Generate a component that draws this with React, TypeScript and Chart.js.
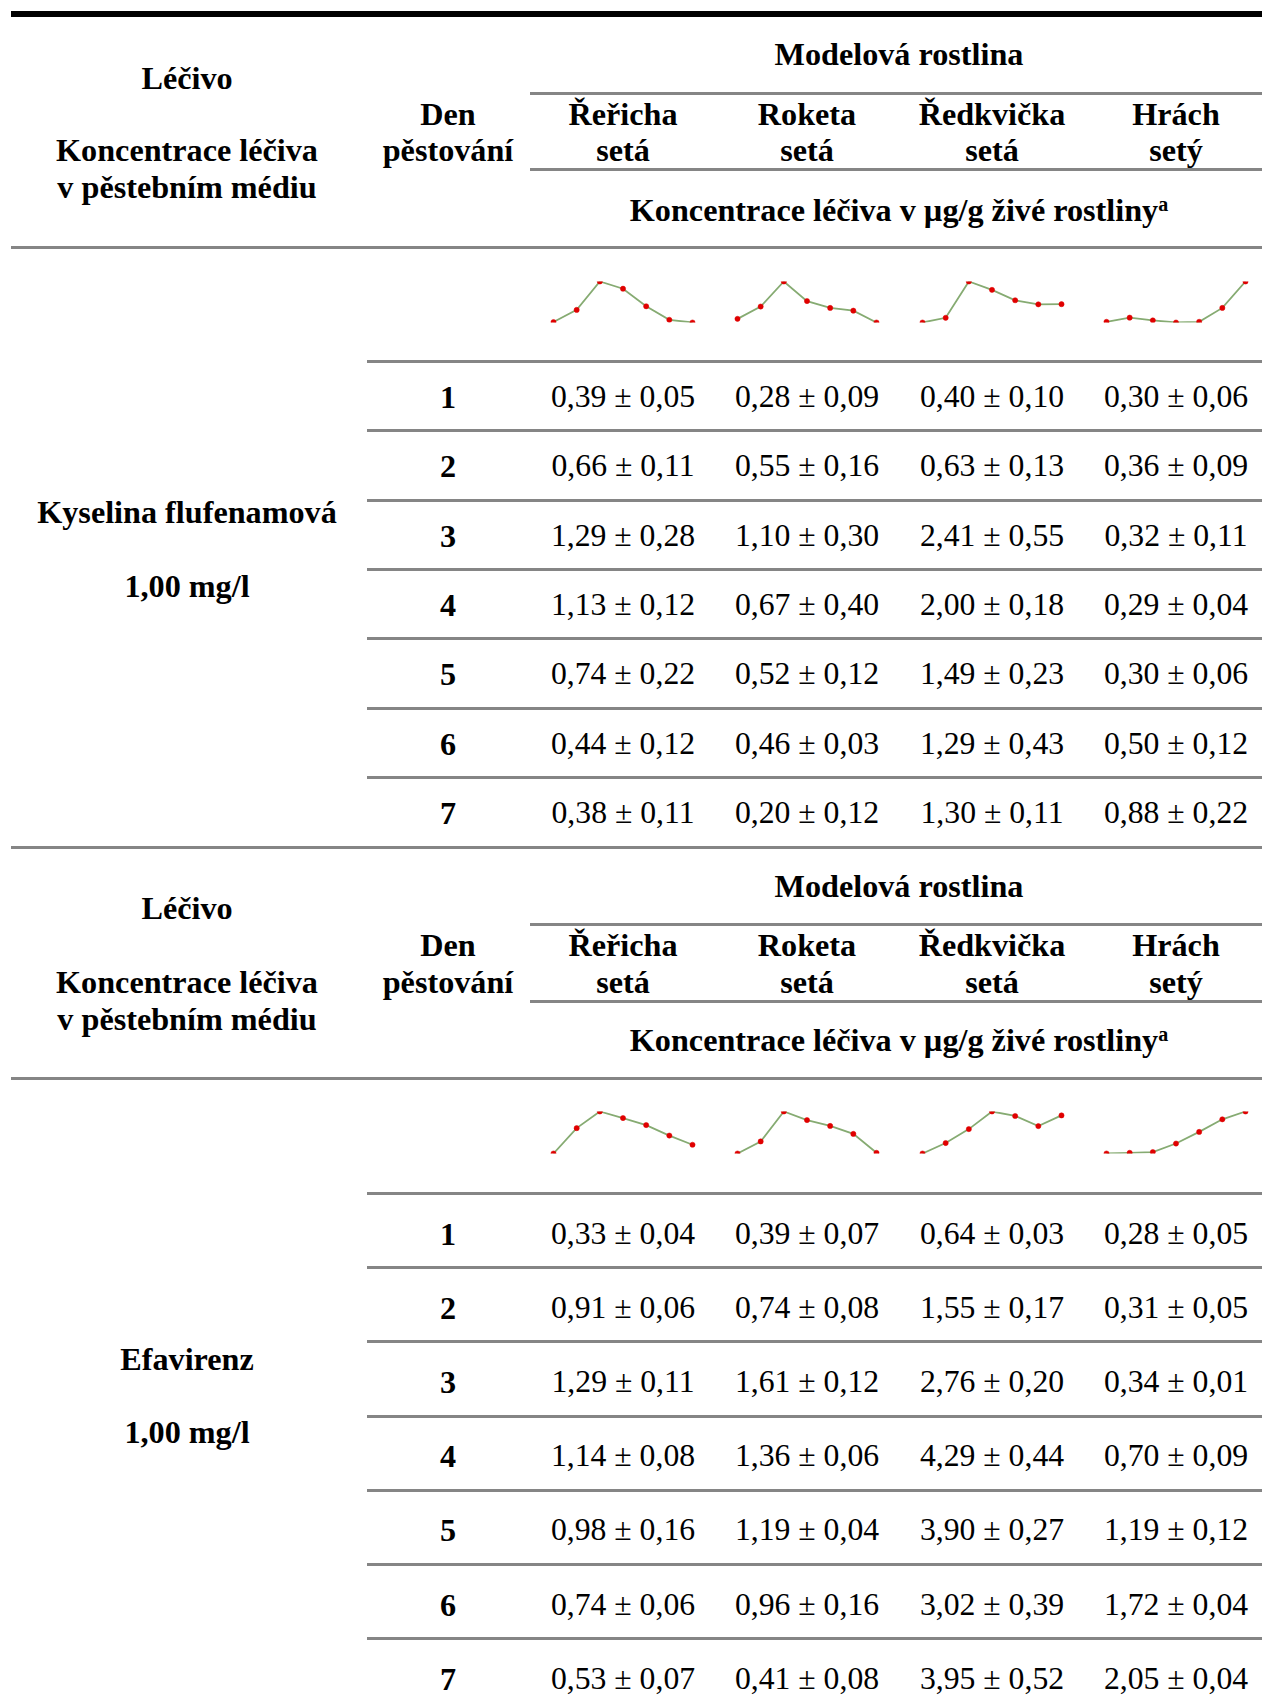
import React, { useEffect, useRef } from "react";
import { Chart, registerables } from "chart.js";

Chart.register(...registerables);

// ---------- data ----------
const days = [1, 2, 3, 4, 5, 6, 7];
const plantNames = ["Řeřicha", "Roketa", "Ředkvička", "Hrách"];
const plantEpithets = ["setá", "setá", "setá", "setý"];

const drugNames = ["Kyselina flufenamová", "Efavirenz"];
const drugConcs = ["1,00 mg/l", "1,00 mg/l"];

// Kyselina flufenamová: means per plant (days 1..7)
const fluRericha = [0.39, 0.66, 1.29, 1.13, 0.74, 0.44, 0.38];
const fluRoketa = [0.28, 0.55, 1.1, 0.67, 0.52, 0.46, 0.2];
const fluRedkvicka = [0.4, 0.63, 2.41, 2.0, 1.49, 1.29, 1.3];
const fluHrach = [0.3, 0.36, 0.32, 0.29, 0.3, 0.5, 0.88];
// standard deviations
const fluRerichaSd = [0.05, 0.11, 0.28, 0.12, 0.22, 0.12, 0.11];
const fluRoketaSd = [0.09, 0.16, 0.3, 0.4, 0.12, 0.03, 0.12];
const fluRedkvickaSd = [0.1, 0.13, 0.55, 0.18, 0.23, 0.43, 0.11];
const fluHrachSd = [0.06, 0.09, 0.11, 0.04, 0.06, 0.12, 0.22];

// Efavirenz
const efaRericha = [0.33, 0.91, 1.29, 1.14, 0.98, 0.74, 0.53];
const efaRoketa = [0.39, 0.74, 1.61, 1.36, 1.19, 0.96, 0.41];
const efaRedkvicka = [0.64, 1.55, 2.76, 4.29, 3.9, 3.02, 3.95];
const efaHrach = [0.28, 0.31, 0.34, 0.7, 1.19, 1.72, 2.05];
const efaRerichaSd = [0.04, 0.06, 0.11, 0.08, 0.16, 0.06, 0.07];
const efaRoketaSd = [0.07, 0.08, 0.12, 0.06, 0.04, 0.16, 0.08];
const efaRedkvickaSd = [0.03, 0.17, 0.2, 0.44, 0.27, 0.39, 0.52];
const efaHrachSd = [0.05, 0.05, 0.01, 0.09, 0.12, 0.04, 0.04];

const fluMeans = [fluRericha, fluRoketa, fluRedkvicka, fluHrach];
const fluSds = [fluRerichaSd, fluRoketaSd, fluRedkvickaSd, fluHrachSd];
const efaMeans = [efaRericha, efaRoketa, efaRedkvicka, efaHrach];
const efaSds = [efaRerichaSd, efaRoketaSd, efaRedkvickaSd, efaHrachSd];

// ---------- layout ----------
const FONT = "'Liberation Serif', 'Times New Roman', serif";
const FS_BOLD = 32.2;
const FS_REG = 31.7;
const LH = 36;
const leftX = 187;
const denX = 448;
const colX = [623, 807, 992, 1176];
const speciesLeft = 530;
const rowLineLeft = 367;
const fullLeft = 11;
const RIGHT = 1262;
const SPARK_W = 140;
const PAD = 4;

const fmt = (v: number) => v.toFixed(2).replace(".", ",");

function Txt({ x, y, children, bold = true }: any) {
  return (
    <div
      style={{
        position: "absolute",
        left: x - 300,
        width: 600,
        top: y - LH / 2,
        height: LH,
        lineHeight: LH + "px",
        fontSize: bold ? FS_BOLD : FS_REG,
        fontWeight: bold ? "bold" : "normal",
        textAlign: "center",
        whiteSpace: "nowrap",
      }}
    >
      {children}
    </div>
  );
}

function HLine({ x1, x2, y, h = 3, color = "#858585" }: any) {
  return (
    <div
      style={{
        position: "absolute",
        left: x1,
        width: x2 - x1,
        top: Math.round(y - h / 2),
        height: h,
        background: color,
      }}
    />
  );
}

function Spark({ values, cx, top, h }: any) {
  const ref = useRef<HTMLCanvasElement>(null);
  useEffect(() => {
    if (!ref.current) return;
    const chart = new Chart(ref.current, {
      type: "line",
      data: {
        labels: days.map(String),
        datasets: [
          {
            data: values,
            borderColor: "#86ab72",
            borderWidth: 1.8,
            pointRadius: 2.6,
            pointBackgroundColor: "#e00000",
            pointBorderColor: "#e00000",
            pointBorderWidth: 0.5,
            tension: 0,
            fill: false,
          },
        ],
      },
      options: {
        responsive: false,
        animation: false,
        layout: { padding: PAD },
        plugins: { legend: { display: false }, tooltip: { enabled: false } },
        scales: {
          x: { display: false, offset: false },
          y: { display: false, min: Math.min(...values), max: Math.max(...values) },
        },
      },
    });
    return () => chart.destroy();
  }, [values]);
  const w = SPARK_W + 2 * PAD;
  const hh = h + 2 * PAD;
  return (
    <canvas
      ref={ref}
      width={w}
      height={hh}
      style={{ position: "absolute", left: cx - w / 2, top: top - PAD, width: w, height: hh }}
    />
  );
}

function Block({ L, drug, conc, means, sds }: any) {
  const rows = days.map((d, i) => {
    const line = L.rowLine0 + i * L.rowH;
    return { d, i, line, cy: line + L.rowH / 2 + L.textOff };
  });
  return (
    <>
      <Txt x={leftX} y={L.lecivoY}>Léčivo</Txt>
      <Txt x={leftX} y={L.row2Y}>Koncentrace léčiva</Txt>
      <Txt x={leftX} y={L.leftVY}>v pěstebním médiu</Txt>
      <Txt x={denX} y={L.row1Y}>Den</Txt>
      <Txt x={denX} y={L.row2Y}>pěstování</Txt>
      <Txt x={(speciesLeft + 1268) / 2} y={L.modelY}>Modelová rostlina</Txt>
      <HLine x1={speciesLeft} x2={RIGHT} y={L.line1} />
      {plantNames.map((p, j) => (
        <React.Fragment key={p + j}>
          <Txt x={colX[j]} y={L.row1Y}>{p}</Txt>
          <Txt x={colX[j]} y={L.row2Y}>{plantEpithets[j]}</Txt>
        </React.Fragment>
      ))}
      <HLine x1={speciesLeft} x2={RIGHT} y={L.line2} />
      <Txt x={(speciesLeft + 1268) / 2} y={L.koncY}>
        Koncentrace léčiva v µg/g živé rostliny
        <span style={{ fontSize: 20, position: "relative", top: -10 }}>a</span>
      </Txt>
      <HLine x1={fullLeft} x2={RIGHT} y={L.line3} />
      {means.map((m: number[], j: number) => (
        <Spark key={"s" + j} values={m} cx={colX[j]} top={L.sparkTop} h={L.sparkH} />
      ))}
      {rows.map((r) => (
        <React.Fragment key={"r" + r.i}>
          <HLine x1={rowLineLeft} x2={RIGHT} y={r.line} />
          <Txt x={denX} y={r.cy}>{r.d}</Txt>
          {means.map((m: number[], j: number) => (
            <Txt key={j} x={colX[j]} y={r.cy} bold={false}>
              {fmt(m[r.i]) + " ± " + fmt(sds[j][r.i])}
            </Txt>
          ))}
        </React.Fragment>
      ))}
      <Txt x={leftX} y={L.drugY}>{drug}</Txt>
      <Txt x={leftX} y={L.concY}>{conc}</Txt>
    </>
  );
}

const B1 = {
  modelY: 54, lecivoY: 78, line1: 93, row1Y: 114, row2Y: 150, leftVY: 187,
  line2: 169, koncY: 210, line3: 247, sparkTop: 281, sparkH: 42,
  rowLine0: 361.5, rowH: 69.33, textOff: 1, drugY: 512, concY: 586,
};
const B2 = {
  modelY: 886, lecivoY: 908, line1: 924.5, row1Y: 945, row2Y: 982, leftVY: 1019,
  line2: 1001, koncY: 1040, line3: 1078, sparkTop: 1111, sparkH: 43,
  rowLine0: 1193.5, rowH: 74.2, textOff: 3, drugY: 1359, concY: 1432,
};

export default function App() {
  return (
    <>
      <style>{`html,body{margin:0;padding:0;background:#fff;overflow:hidden}`}</style>
      <div
        style={{
          position: "relative",
          width: 1262,
          height: 1708,
          overflow: "hidden",
          fontFamily: FONT,
          color: "#000",
          background: "#fff",
        }}
      >
        <HLine x1={fullLeft} x2={RIGHT} y={13.5} h={6} color="#000" />
        <Block L={B1} drug={drugNames[0]} conc={drugConcs[0]} means={fluMeans} sds={fluSds} />
        <HLine x1={fullLeft} x2={RIGHT} y={847} />
        <Block L={B2} drug={drugNames[1]} conc={drugConcs[1]} means={efaMeans} sds={efaSds} />
      </div>
    </>
  );
}
